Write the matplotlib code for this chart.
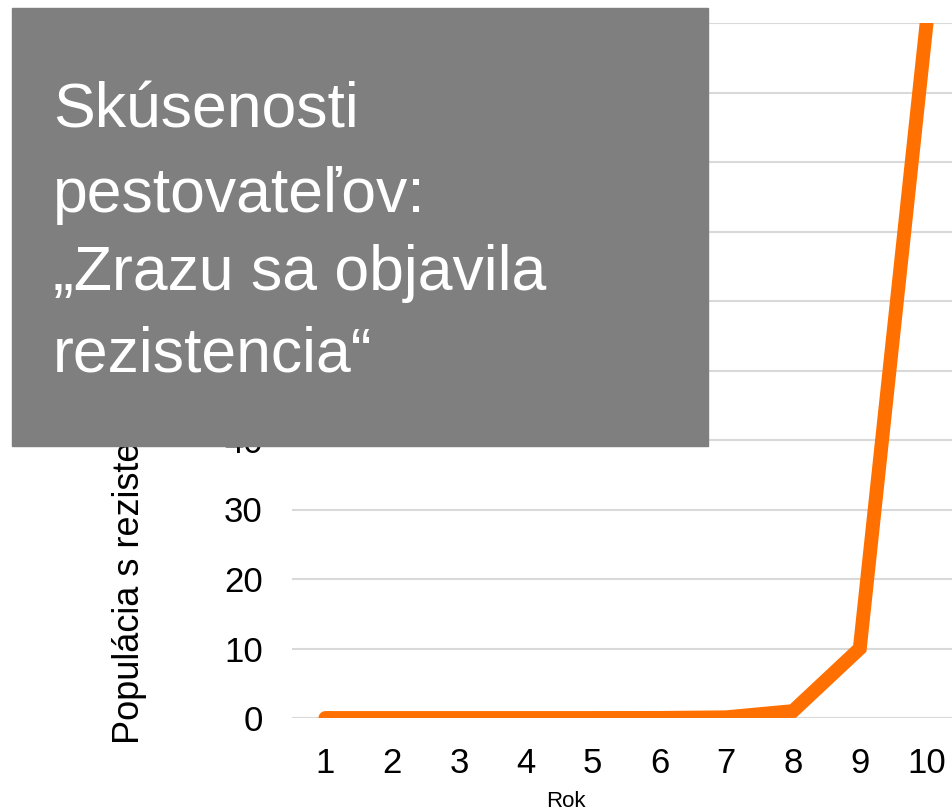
import matplotlib.pyplot as plt
from matplotlib.patches import Rectangle

plt.rcParams['font.family'] = ['Liberation Sans', 'DejaVu Sans']

years = [1, 2, 3, 4, 5, 6, 7, 8, 9, 10]
resistant = [0.0000001, 0.000001, 0.00001, 0.0001, 0.001, 0.01, 0.1, 1, 10, 100]
y_ticks = [0, 10, 20, 30, 40, 50, 60, 70, 80, 90, 100]
box_lines = ["Skúsenosti", "pestovateľov:", "„Zrazu sa objavila", "rezistencia“"]

W, H = 953, 811
fig = plt.figure(figsize=(W / 100, H / 100), dpi=100)
ax = fig.add_axes([292 / W, 1 - 718 / H, 668 / W, 695 / H])

ax.plot(years, resistant, color='#FF7000', lw=10,
        solid_capstyle='round', solid_joinstyle='miter', zorder=3)

ax.set_xlim(0.5, 10.5)
ax.set_ylim(0, 100)
ax.set_xticks(years)
ax.set_yticks(y_ticks)
ax.grid(axis='y', color='#D9D9D9', lw=1.5)
ax.set_axisbelow(True)
for s in ax.spines.values():
    s.set_visible(False)
ax.tick_params(axis='both', length=0, labelsize=25)
ax.tick_params(axis='y', pad=21)
ax.tick_params(axis='x', pad=21)

fig.text(130 / W, 1 - 744 / H, "Populácia s rezistenciou voči herbicídu",
         rotation=90, ha='center', va='bottom', fontsize=26)
fig.text(566 / W, 1 - 807 / H, "Rok", ha='center', va='baseline', fontsize=16)

# gray overlay box with the quote
fig.add_artist(Rectangle((12 / W, 1 - 446 / H), 696 / W, 438 / H,
                         transform=fig.transFigure, color='#7F7F7F', zorder=10))
for line, base in zip(box_lines, [128, 212, 290, 372]):
    fig.text(53 / W, 1 - base / H, line, color='white', fontsize=45,
             ha='left', va='baseline', zorder=11)

fig.savefig('out.png', dpi=100)
